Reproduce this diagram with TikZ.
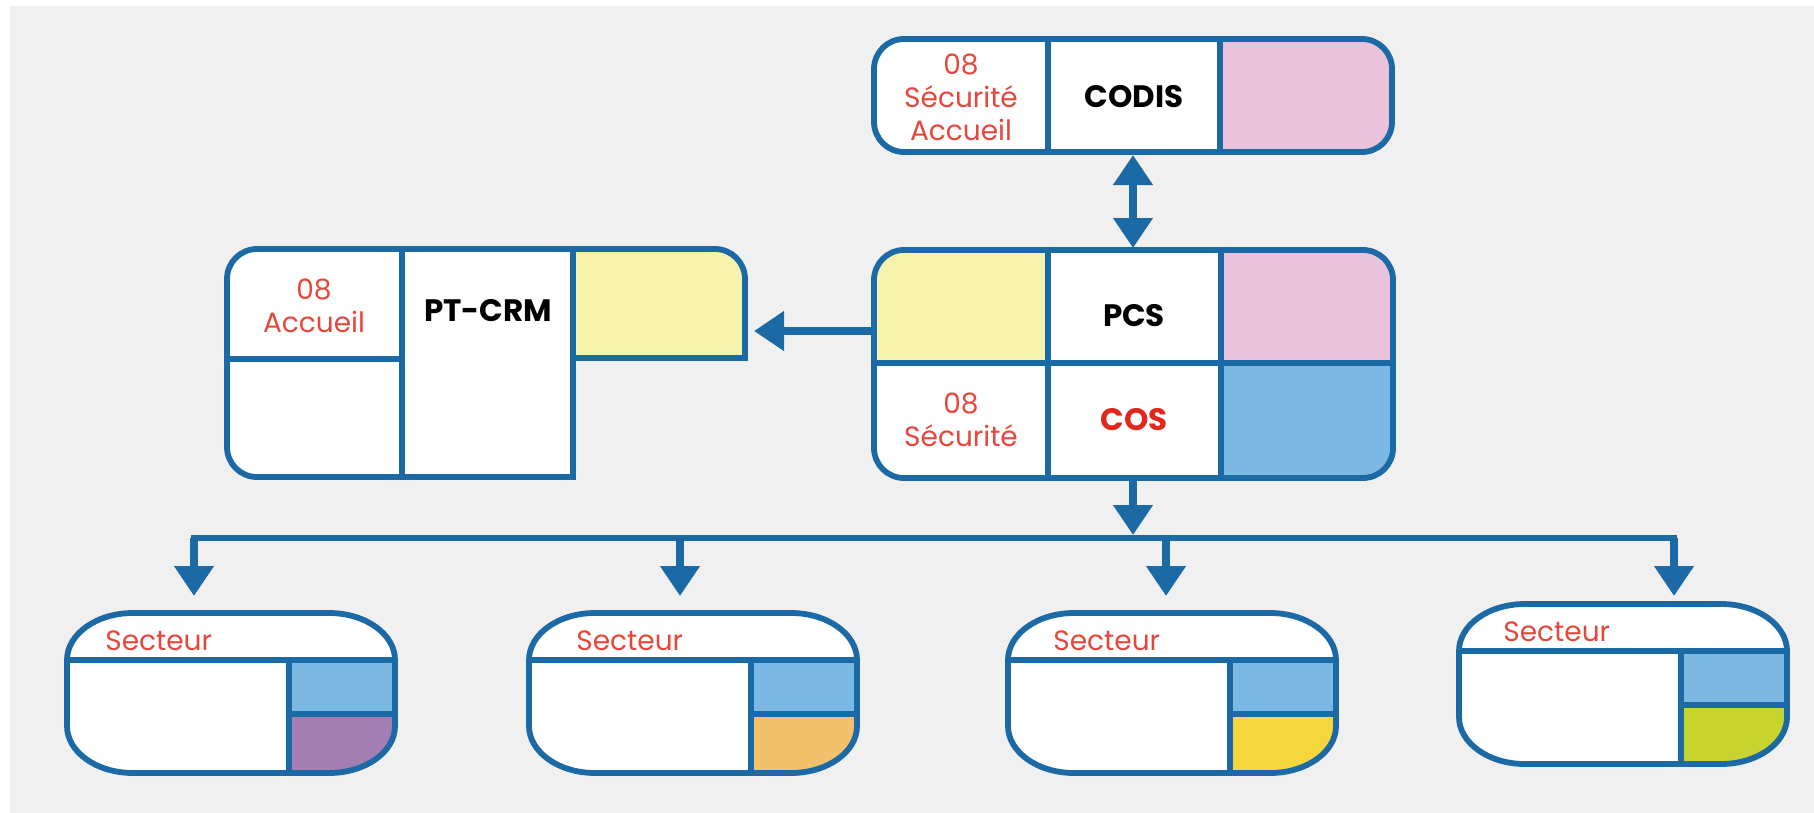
\documentclass[tikz,border=0pt]{standalone}
\usepackage{fontspec}
\setmainfont{Poppins}
\usetikzlibrary{arrows.meta}
\definecolor{bgray}{HTML}{F0F0F0}
\definecolor{frame}{HTML}{1B69A5}
\definecolor{pinkc}{HTML}{E8C3DB}
\definecolor{lyellow}{HTML}{F5F3AE}
\definecolor{lblue}{HTML}{7BB9E4}
\definecolor{secpurple}{HTML}{A37EB2}
\definecolor{secorange}{HTML}{F3C16B}
\definecolor{secyellow}{HTML}{F6D63D}
\definecolor{seclime}{HTML}{C8D42E}
\definecolor{redtxt}{HTML}{E8463A}
\definecolor{cosred}{HTML}{E0281E}
\tikzset{
    every node/.style={font=\fontsize{14pt}{16.5pt}\selectfont, inner sep=0pt},
    box/.style={draw=frame, line width=2.9pt},
    cell/.style={draw=frame, line width=3pt},
    arr/.style={draw=frame, line width=4.2pt, >={Triangle[length=15pt,width=19pt]}, ->},
    busline/.style={draw=frame, line width=3.4pt},
    redlbl/.style={text=redtxt, align=center},
    boxtitle/.style={font=\fontsize{15.5pt}{16.5pt}\selectfont\bfseries},
}

\begin{document}
\begin{tikzpicture}[x=0.5pt, y=0.5pt]
    \useasboundingbox (0,0) rectangle (1814,-813);
    \fill[white] (0,0) rectangle (1814,-813);
    \fill[bgray] (10,-6) rectangle (1814,-813);

    % CODIS
    \begin{scope}
    \clip[rounded corners=15pt] (874,-39) rectangle (1392,-152);
    \fill[white] (874,-39) rectangle (1392,-152);
    \fill[pinkc] (1220,-39) rectangle (1392,-152);
    \end{scope}
    \draw[cell] (1048,-39) -- (1048,-152) (1220,-39) -- (1220,-152);
    \draw[box, rounded corners=15pt] (874,-39) rectangle (1392,-152);
    \node[redlbl] (codis-l) at (961,-97) {08\\Sécurité\\Accueil};
    \node[boxtitle] (codis) at (1134,-97) {CODIS};

    % PCS / COS
    \begin{scope}
    \clip[rounded corners=15pt] (874,-250) rectangle (1393,-478);
    \fill[white] (874,-250) rectangle (1393,-478);
    \fill[lyellow] (874,-250) rectangle (1048,-363);
    \fill[pinkc] (1221,-250) rectangle (1393,-363);
    \fill[lblue] (1221,-363) rectangle (1393,-478);
    \end{scope}
    \draw[cell] (874,-363) -- (1393,-363) (1048,-250) -- (1048,-478) (1221,-250) -- (1221,-478);
    \draw[box, rounded corners=15pt] (874,-250) rectangle (1393,-478);
    \node[boxtitle] (pcs) at (1134,-316) {PCS};
    \node[boxtitle, text=cosred] (cos) at (1134,-420) {COS};
    \node[redlbl] (cos-l) at (961,-420) {08\\Sécurité};

    % PT-CRM
    \def\crmpath{(227,-279) arc[start angle=180,end angle=90,radius=30] -- (715,-249) arc[start angle=90,end angle=0,radius=30] -- (745,-358) -- (573,-358) -- (573,-477) -- (257,-477) arc[start angle=270,end angle=180,radius=30] -- cycle}
    \begin{scope}
    \clip \crmpath;
    \fill[white] (227,-249) rectangle (745,-477);
    \fill[lyellow] (573,-249) rectangle (745,-358);
    \end{scope}
    \draw[cell] (227,-359) -- (402,-359) (402,-249) -- (402,-477) (573,-249) -- (573,-358);
    \draw[box] \crmpath;
    \node[redlbl] (crm-l) at (314,-306) {08\\Accueil};
    \node[boxtitle] (crm) at (488,-311) {PT-CRM};

    % links
    \coordinate (codis-s) at (1133,-155);
    \coordinate (pcs-n) at (1133,-248);
    \coordinate (pcs-w) at (874,-331);
    \coordinate (crm-e) at (754,-331);
    \coordinate (pcs-s) at (1133,-479);
    \coordinate (bus) at (1133,-535);
    \coordinate (bus-w) at (191,-538);
    \coordinate (bus-e) at (1677,-538);
    \draw[arr, <->] (codis-s) -- (pcs-n);
    \draw[arr] (pcs-w) -- (crm-e);
    \draw[arr] (pcs-s) -- (bus);
    \draw[busline] (bus-w) -- (bus-e);

    % secteurs
    \def\secpath{(0,-47) arc[start angle=180,end angle=90,x radius=66,y radius=47] -- (262,0) arc[start angle=90,end angle=0,x radius=66,y radius=47] -- (328,-113) arc[start angle=0,end angle=-90,x radius=66,y radius=47] -- (66,-160) arc[start angle=270,end angle=180,x radius=66,y radius=47] -- cycle}
    \foreach \sx/\sy/\ax/\tx/\c [count=\i] in {67/613/194/38/secpurple, 529/613/680/47/secorange, 1008/613/1166/45/secyellow, 1459/604/1674/44/seclime}{
        \coordinate (drop\i) at (\ax,-538);
        \coordinate (sec\i-n) at (\ax,-596);
        \draw[arr] (drop\i) -- (sec\i-n);
        \begin{scope}[shift={(\sx,-\sy)}]
        \begin{scope}
        \clip \secpath;
        \fill[white] (0,0) rectangle (328,-160);
        \fill[lblue] (222,-47) rectangle (328,-101);
        \fill[\c] (222,-101) rectangle (328,-160);
        \end{scope}
        \draw[cell] (0,-47) -- (328,-47) (222,-47) -- (222,-160) (222,-101) -- (328,-101);
        \draw[box] \secpath;
        \node[text=redtxt, anchor=base west] (sec\i) at (\tx,-37) {Secteur};
        \end{scope}
    }
\end{tikzpicture}
\end{document}
